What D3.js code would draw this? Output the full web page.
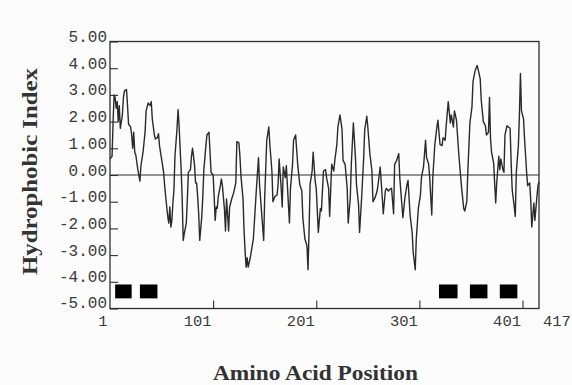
<!DOCTYPE html>
<html>
<head>
<meta charset="utf-8">
<script src="https://cdn.jsdelivr.net/npm/d3@7"></script>
<style>
  body { margin: 0; background: #fcfcfc; }
  svg { display: block; }
</style>
</head>
<body>
<div id="chart"></div>
<script>
// residue positions
const positions = [
  1, 3, 4, 5, 6, 7, 8, 9, 10, 11, 13, 14, 15, 17, 18, 19, 21, 22, 23, 24,
  25, 26, 28, 30, 31, 33, 35, 36, 38, 40, 41, 42, 44, 45, 47, 48, 49, 50, 51, 53,
  54, 56, 57, 58, 59, 60, 61, 62, 63, 64, 66, 67, 68, 69, 70, 71, 72, 73, 75, 76,
  77, 79, 80, 81, 82, 83, 84, 85, 86, 87, 88, 90, 91, 92, 94, 95, 97, 98, 99, 101,
  102, 103, 104, 105, 106, 108, 109, 110, 112, 113, 114, 115, 116, 117, 119, 121, 123, 124, 126, 127,
  128, 130, 131, 132, 133, 134, 135, 137, 140, 143, 145, 146, 150, 151, 153, 155, 156, 158, 159, 161,
  163, 164, 165, 167, 168, 169, 171, 172, 174, 175, 176, 178, 179, 181, 183, 185, 187, 188, 190, 192,
  193, 194, 195, 197, 198, 200, 201, 203, 205, 206, 208, 210, 211, 213, 214, 216, 218, 219, 221, 222,
  224, 226, 227, 229, 231, 232, 234, 235, 237, 239, 240, 242, 243, 245, 247, 248, 250, 251, 253, 255,
  256, 258, 260, 261, 263, 264, 266, 268, 269, 271, 272, 274, 276, 277, 279, 281, 282, 284, 285, 287,
  289, 290, 292, 294, 295, 297, 298, 300, 302, 303, 305, 306, 307, 308, 310, 311, 313, 314, 316, 318,
  319, 321, 323, 324, 326, 327, 329, 331, 332, 334, 335, 337, 339, 340, 342, 344, 345, 347, 348, 350,
  352, 353, 355, 357, 358, 360, 361, 363, 365, 366, 368, 369, 370, 371, 373, 374, 375, 376, 378, 379,
  380, 382, 383, 384, 386, 387, 389, 390, 391, 393, 394, 395, 397, 398, 399, 400, 402, 403, 405, 406,
  408, 409, 410, 412, 413, 415, 416, 417
];

// hydrophobic index at each position
const hydro = [
  0.6, 0.7, 2.0, 3.0, 2.9, 2.5, 2.75, 2.0, 2.6, 1.75, 2.25, 2.9, 3.15, 3.2, 2.6, 1.9, 1.8, 1.5, 1.0, 1.6,
  0.85, 0.75, 0.2, -0.23, 0.35, 0.85, 1.6, 2.4, 2.7, 2.6, 2.75, 2.1, 1.5, 1.35, 1.4, 1.55, 1.1, 0.85, 0.6, 0.1,
  -0.4, -1.2, -1.55, -1.8, -1.2, -1.95, -1.7, -1.05, -0.55, 0.7, 1.75, 2.45, 1.85, 1.0, 0.2, -0.9, -2.45, -2.2, -1.8, -0.9,
  0.1, 0.2, 0.7, 1.0, 0.7, 0.35, -0.3, -0.3, -0.8, -1.45, -2.45, -1.55, -0.8, 0.2, 1.1, 1.5, 1.6, 0.85, 0.1, 0.0,
  -0.8, -1.7, -1.2, -1.25, -0.8, -0.4, -0.15, -0.4, -1.3, -2.1, -0.9, -1.45, -2.1, -1.2, -0.9, -0.65, -0.3, 1.25, 1.2, 0.7,
  -0.04, -0.9, -2.1, -2.85, -3.45, -3.1, -3.45, -3.1, -2.4, -0.5, 0.65, -0.35, -2.45, -0.85, 1.3, 1.8, 1.15, 0.15, -1.0, -0.8,
  -0.75, -0.35, 0.6, -0.5, -1.2, 0.3, -0.1, 0.35, -1.1, -1.8, -0.5, 0.4, 1.3, 1.5, 0.4, -0.35, -0.6, -1.6, -2.4, -2.65,
  -3.55, -2.15, -0.35, 0.15, 0.85, -0.25, -0.5, -2.15, -1.25, -1.35, 0.15, 0.2, -0.1, -0.5, -1.55, 0.4, 0.15, 0.55, 1.15, 1.8,
  2.25, 1.7, 0.55, 0.4, -0.5, -1.8, -0.85, 0.4, 1.95, 0.65, -0.35, -1.1, -2.15, -0.85, 0.65, 1.7, 2.2, 1.8, 0.8, 0.15,
  -1.0, -0.85, -0.6, -0.35, 0.3, -0.25, -1.45, -0.6, -0.5, -0.6, -0.55, -0.5, -1.45, 0.4, 0.55, 0.8, -0.1, -1.1, -1.6, -0.85,
  -0.35, -0.2, -1.5, -2.15, -2.9, -3.55, -2.4, -1.25, -0.75, -0.1, 0.3, 0.8, 1.3, 0.65, 0.4, -0.1, -1.5, -0.1, 1.15, 1.8,
  2.05, 1.15, 1.1, 1.4, 1.3, 1.85, 2.75, 1.95, 2.25, 1.8, 2.4, 2.05, 0.9, 0.4, -0.5, -1.25, -1.35, -1.0, 0.15, 1.95,
  2.55, 3.5, 3.9, 4.1, 3.95, 3.6, 2.8, 2.0, 1.85, 1.5, 1.6, 2.9, 1.35, 0.85, 0.45, -0.3, -1.05, -0.3, 0.7, 0.2,
  0.6, 0.2, 0.1, 1.5, 1.85, 1.8, 1.75, 0.45, -0.55, -1.2, -1.55, 0.1, 1.1, 2.25, 3.8, 2.4, 2.1, 1.35, 0.1, -0.4,
  -0.3, -0.95, -1.95, -1.05, -1.7, -0.8, -0.4, -0.25
];

// transmembrane segments (black boxes)
const tmStart = [6, 30, 320, 350, 379];
const tmEnd = [22, 47, 338, 367, 396];

const yTicks = [5, 4, 3, 2, 1, 0, -1, -2, -3, -4, -5];
const xTicks = [1, 101, 201, 301, 401, 417];

const W = 572, H = 385;
const margin = {top: 41.5, left: 110, right: 33, bottom: 76.5};
const width = W - margin.left - margin.right;
const height = H - margin.top - margin.bottom;

const svg = d3.select("#chart").append("svg")
  .attr("width", W)
  .attr("height", H);

const g = svg.append("g")
  .attr("transform", `translate(${margin.left},${margin.top})`);

const x = d3.scaleLinear().domain([1, 417]).range([0, width]);
const y = d3.scaleLinear().domain([-5, 5]).range([height, 0]);

const ink = "#2e2e2e";
const mono = "'Liberation Mono', 'Courier New', monospace";

// y axis, ticks pointing into the plot
const yAxis = g.append("g")
  .call(d3.axisLeft(y).tickValues(yTicks).tickSizeInner(-8).tickSizeOuter(0));
yAxis.select(".domain").remove();
yAxis.selectAll("line").attr("stroke", ink).attr("stroke-width", 1.1);
yAxis.selectAll("text")
  .attr("x", -3).attr("dy", 0).attr("y", d => d === -5 ? -1 : 0)
  .attr("fill", "#3a3a3a")
  .style("font-family", mono).style("font-size", "16px")
  .text(d => d3.format(".2f")(d).replace("\u2212", "-"));

// x axis
const xAxis = g.append("g")
  .attr("transform", `translate(0,${height})`)
  .call(d3.axisBottom(x).tickValues(xTicks).tickSizeInner(-8).tickSizeOuter(0));
xAxis.select(".domain").remove();
xAxis.selectAll("line")
  .attr("stroke", ink).attr("stroke-width", 1.1)
  .attr("display", d => (d === 1 || d === 417) ? "none" : null);
xAxis.selectAll("text")
  .attr("y", 17).attr("dy", 0)
  .attr("fill", "#3a3a3a")
  .style("font-family", mono).style("font-size", "15.5px")
  .attr("text-anchor", d => d === 417 ? "start" : "end")
  .attr("dx", d => d === 417 ? 3.5 : (d === 1 ? -3 : -2));

// zero line
g.append("line")
  .attr("x1", 0).attr("x2", width)
  .attr("y1", y(0)).attr("y2", y(0))
  .attr("stroke", ink).attr("stroke-width", 1.2);

// hydropathy trace
const line = d3.line()
  .x((d, i) => x(positions[i]))
  .y(d => y(d));

g.append("path")
  .datum(hydro)
  .attr("fill", "none")
  .attr("stroke", "#2a2a2a")
  .attr("stroke-width", 1.4)
  .attr("stroke-linejoin", "round")
  .attr("d", line);

// transmembrane boxes
g.selectAll("rect.tm")
  .data(tmStart)
  .join("rect")
  .attr("class", "tm")
  .attr("x", d => x(d))
  .attr("width", (d, i) => x(tmEnd[i]) - x(d))
  .attr("y", y(-4.1))
  .attr("height", y(-4.62) - y(-4.1))
  .attr("fill", "#000");

// frame
g.append("rect")
  .attr("width", width).attr("height", height)
  .attr("fill", "none")
  .attr("stroke", ink).attr("stroke-width", 1.3);

// axis titles
svg.append("text")
  .attr("transform", "translate(37,171.5) rotate(-90)")
  .attr("text-anchor", "middle")
  .attr("textLength", 207).attr("lengthAdjust", "spacingAndGlyphs")
  .style("font-family", "'Liberation Serif', 'Times New Roman', serif")
  .style("font-weight", "bold").style("font-size", "21px")
  .attr("fill", "#333")
  .text("Hydrophobic Index");

svg.append("text")
  .attr("x", 315.5).attr("y", 380)
  .attr("text-anchor", "middle")
  .attr("textLength", 205).attr("lengthAdjust", "spacingAndGlyphs")
  .style("font-family", "'Liberation Serif', 'Times New Roman', serif")
  .style("font-weight", "bold").style("font-size", "21px")
  .attr("fill", "#333")
  .text("Amino Acid Position");
</script>
</body>
</html>
